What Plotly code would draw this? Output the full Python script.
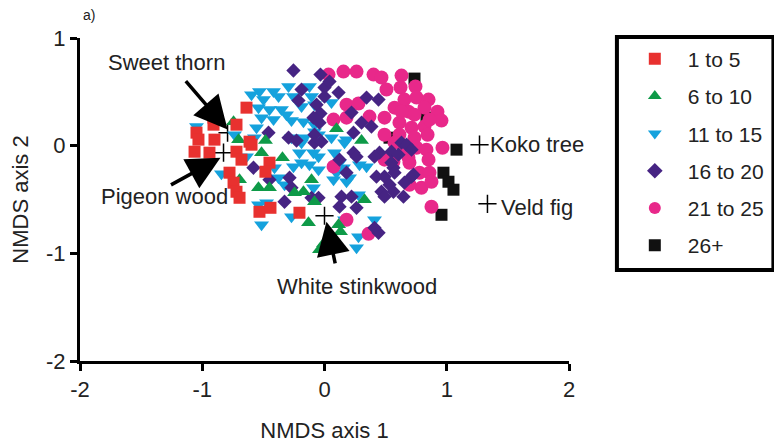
import plotly.graph_objects as go

# ---- data (NMDS scores) ----
g1_x = [-1.047, -0.908, -0.638, -0.720, -0.900, -0.613, -1.063, -0.941, -0.720, -1.031, -0.777,
        -0.744, -0.720, -0.695, -0.597, -0.450, -0.483, -0.532, -0.442, -0.205, -0.908, -0.679]
g1_y = [0.121, 0.195, 0.353, 0.195, 0.056, 0.037, -0.056, -0.065, -0.056, 0.056, -0.251,
        -0.344, -0.428, -0.484, 0.009, -0.158, -0.242, -0.614, -0.577, -0.623, 0.260, -0.130]

g2_x = [-0.744, -0.703, -0.483, -0.515, -0.344, -0.695, -0.540, -0.450, -0.106, -0.245, -0.172,
        -0.082, -0.131, 0.303, 0.098, 0.327, 0.115, 0.131, -0.041, -0.008]
g2_y = [0.223, 0.056, 0.047, -0.065, -0.112, -0.316, -0.391, -0.391, -0.316, -0.437, -0.428,
        -0.521, -0.716, 0.047, 0.158, -0.502, -0.735, -0.800, -0.967, -0.912]

g3_x = [-0.532, -0.417, -0.294, -0.123, -0.499, -0.376, -0.254, -0.106, -0.540, -0.450, -0.352,
        -0.188, -0.082, 0.057, -0.417, -0.515, -0.270, -0.172, -0.082, -0.082, -0.270, -0.164,
        -0.556, -0.573, -0.736, -1.047, -0.205, -0.090, -0.843, -0.638, -0.409, -0.376, -0.254,
        -0.327, -0.123, -0.090, -0.049, -0.540, -0.474, -0.515, -0.270, -0.188, -0.049, 0.082,
        0.164, 0.123, 0.098, 0.205, 0.286, 0.344, 0.278, 0.409, 0.278, 0.262, 0.155, 0.074,
        0.180, 0.164, 0.057, 0.180, -0.049, -0.188, -0.311, -0.597]
g3_y = [0.502, 0.502, 0.549, 0.549, 0.428, 0.456, 0.456, 0.456, 0.353, 0.335, 0.335,
        0.363, 0.381, 0.400, 0.242, 0.260, 0.233, 0.223, 0.195, 0.130, 0.074, 0.074,
        0.167, 0.074, 0.102, 0.177, -0.065, -0.065, -0.260, -0.102, -0.205, -0.298, -0.195,
        -0.363, -0.177, -0.391, -0.223, -0.549, -0.530, -0.735, -0.660, -0.158, -0.102, -0.065,
        0.028, -0.158, -0.251, -0.298, -0.177, -0.195, -0.456, -0.688, -0.847, -0.949, -0.205, -0.316,
        -0.335, -0.688, 0.074, 0.056, 0.102, 0.028, 0.288, 0.474]

g4_x = [-0.254, -0.033, -0.188, 0.000, 0.041, -0.213, 0.000, 0.115, -0.065, -0.033, 0.221,
        -0.090, -0.041, 0.303, 0.384, 0.344, 0.442, -0.082, 0.237, -0.294, -0.229, -0.082,
        -0.458, 0.630, 0.548, 0.671, 0.450, 0.605, 0.237, -0.025, 0.409, 0.548, 0.180,
        0.425, 0.491, 0.532, 0.466, 0.564, 0.491, 0.139, 0.221, 0.123, 0.262, -0.327,
        -0.286, 0.409, 0.442, 0.123, 0.262, 0.564, 0.712, 0.646, -0.581, -0.450, -0.270,
        -0.106, -0.049, 0.573, 0.654, 0.728, 0.712]
g4_y = [0.698, 0.660, 0.521, 0.540, 0.595, 0.419, 0.456, 0.493, 0.381, 0.298, 0.307,
        0.260, 0.214, 0.214, 0.177, 0.447, 0.428, 0.102, 0.121, 0.074, 0.047, 0.028,
        0.121, 0.028, -0.056, 0.009, -0.065, -0.084, -0.065, 0.037, -0.102, -0.158, -0.251,
        -0.288, -0.288, -0.363, -0.428, -0.428, -0.474, -0.474, -0.474, -0.567, -0.577, -0.521,
        -0.298, -0.763, -0.809, -0.130, -0.102, -0.205, -0.288, -0.474, -0.205, -0.316, -0.391,
        -0.484, -0.484, -0.251, -0.344, -0.270, -0.037]

g5_x = [0.033, 0.155, 0.262, 0.401, 0.466, 0.630, 0.507, 0.622, 0.744, 0.654, 0.753,
        0.851, 0.924, 0.957, 0.180, 0.278, 0.368, 0.491, 0.573, 0.687, 0.818, 0.613,
        0.712, 0.818, 0.859, 0.491, 0.613, 0.736, 0.843, 0.646, 0.753, 0.834, 0.965,
        0.074, 0.180, 0.573, 0.851, 0.695, 0.777, 0.859, 0.793, 0.875, 0.491, 0.564,
        0.687, 0.875, 0.695, 0.074, 0.180, 0.360, 0.736, 0.630]
g5_y = [0.660, 0.688, 0.688, 0.660, 0.633, 0.651, 0.521, 0.540, 0.549, 0.428, 0.447,
        0.428, 0.316, 0.233, 0.381, 0.391, 0.270, 0.260, 0.353, 0.316, 0.353, 0.214,
        0.167, 0.177, 0.242, 0.102, 0.102, 0.074, 0.102, -0.009, -0.019, -0.037, -0.019,
        0.242, 0.260, 0.028, -0.130, -0.158, -0.251, -0.251, -0.391, -0.567, -0.130, -0.149,
        -0.112, -0.335, -0.363, -0.195, -0.688, -0.819, 0.288, 0.316]

g6_x = [0.736, 1.080, 0.973, 1.014, 1.055, 0.957, 0.834, 0.532]
g6_y = [0.623, -0.037, -0.251, -0.335, -0.409, -0.642, 0.260, 0.074]

group_names = ["1 to 5", "6 to 10", "11 to 15", "16 to 20", "21 to 25", "26+"]

species_names = ["Sweet thorn", "Pigeon wood", "White stinkwood", "Koko tree", "Veld fig"]
species_x = [-0.793, -0.826, 0.000, 1.268, 1.333]
species_y = [0.121, -0.065, -0.651, 0.009, -0.540]

x_ticks = [-2, -1, 0, 1, 2]
x_tick_text = ["-2", "-1", "0", "1", "2"]
y_ticks = [-2, -1, 0, 1]
y_tick_text = ["-2", "-1", "0", "1"]

FONT = "Arial, Liberation Sans, sans-serif"
TXT = "#222222"
FS = 22

styles = {
    "1 to 5": dict(symbol="square", color="#E8312F", size=12),
    "6 to 10": dict(symbol="triangle-up", color="#0E9A48", size=13),
    "11 to 15": dict(symbol="triangle-down", color="#15A2DD", size=13),
    "16 to 20": dict(symbol="diamond", color="#462483", size=11),
    "21 to 25": dict(symbol="circle", color="#E8288A", size=14),
    "26+": dict(symbol="square", color="#111111", size=12),
}

data = {
    "1 to 5": (g1_x, g1_y),
    "6 to 10": (g2_x, g2_y),
    "11 to 15": (g3_x, g3_y),
    "16 to 20": (g4_x, g4_y),
    "21 to 25": (g5_x, g5_y),
    "26+": (g6_x, g6_y),
}

draw_order = ["26+", "11 to 15", "21 to 25", "16 to 20", "6 to 10", "1 to 5"]

fig = go.Figure()

# species positions (crosses), drawn beneath the sample markers
fig.add_trace(go.Scatter(
    x=species_x, y=species_y, mode="markers", showlegend=False,
    marker=dict(symbol="cross-thin", size=13, line=dict(width=1.5, color="black")),
))

for name in draw_order:
    xs, ys = data[name]
    st = styles[name]
    fig.add_trace(go.Scatter(
        x=xs, y=ys, mode="markers", name=name,
        legendrank=group_names.index(name) + 1,
        marker=dict(symbol=st["symbol"], color=st["color"], size=st["size"], line=dict(width=0)),
        legendgroup=name,
    ))

# arrows and labels
arrow_style = dict(showarrow=True, arrowhead=2, arrowsize=1.9, arrowwidth=3.5, arrowcolor="black",
                   axref="x", ayref="y", text="")
fig.add_annotation(x=-0.793, y=0.149, ax=-1.145, ay=0.614, **arrow_style)
fig.add_annotation(x=-0.851, y=-0.112, ax=-1.268, ay=-0.372, **arrow_style)
fig.add_annotation(x=0.016, y=-0.707, ax=0.090, ay=-1.107, **arrow_style)

lab = dict(showarrow=False, font=dict(family=FONT, size=FS, color=TXT))
fig.add_annotation(x=-1.292, y=0.772, text=species_names[0], **lab)
fig.add_annotation(x=-1.309, y=-0.474, text=species_names[1], **lab)
fig.add_annotation(x=0.262, y=-1.312, text=species_names[2], **lab)
fig.add_annotation(x=1.335, y=0.009, text=species_names[3], xanchor="left", **lab)
fig.add_annotation(x=1.43, y=-0.577, text=species_names[4], xanchor="left", **lab)

fig.add_annotation(x=0.002, y=1.072, xref="paper", yref="paper", text="a)", showarrow=False,
                   xanchor="left", yanchor="middle", font=dict(family=FONT, size=14, color=TXT))

# legend frame drawn as a shape so the legend itself stays narrow and does not push the margin
fig.add_shape(type="rect", xref="paper", yref="paper", x0=1.098, x1=1.418, y0=0.282, y1=1.003,
              line=dict(color="black", width=4), fillcolor="rgba(0,0,0,0)")

axis_common = dict(showgrid=False, zeroline=False, showline=True, linecolor="black", linewidth=3,
                   ticks="outside", ticklen=7, tickwidth=3, tickcolor="black", automargin=False,
                   tickfont=dict(family=FONT, size=FS, color=TXT), mirror=False)

fig.update_xaxes(range=[-2, 2], tickvals=x_ticks, ticktext=x_tick_text,
                 title=dict(text="NMDS axis 1", font=dict(family=FONT, size=FS, color=TXT), standoff=22),
                 **axis_common)
fig.update_yaxes(range=[-2, 1], tickvals=y_ticks, ticktext=y_tick_text,
                 title=dict(text="NMDS axis 2", font=dict(family=FONT, size=FS, color=TXT), standoff=14),
                 **axis_common)

# page body adds an 8px margin, so the figure is sized to fit the window
fig.update_layout(
    width=774, height=437,
    margin=dict(l=72, r=213, t=30, b=84),
    plot_bgcolor="white", paper_bgcolor="white",
    font=dict(family=FONT, color=TXT),
    legend=dict(x=1.108, y=0.998, xanchor="left", yanchor="top",
                borderwidth=0, bgcolor="rgba(0,0,0,0)",
                font=dict(family=FONT, size=21, color=TXT),
                tracegroupgap=7, itemsizing="constant", itemwidth=56,
                maxheight=400),
)

fig.write_html("out.html")
